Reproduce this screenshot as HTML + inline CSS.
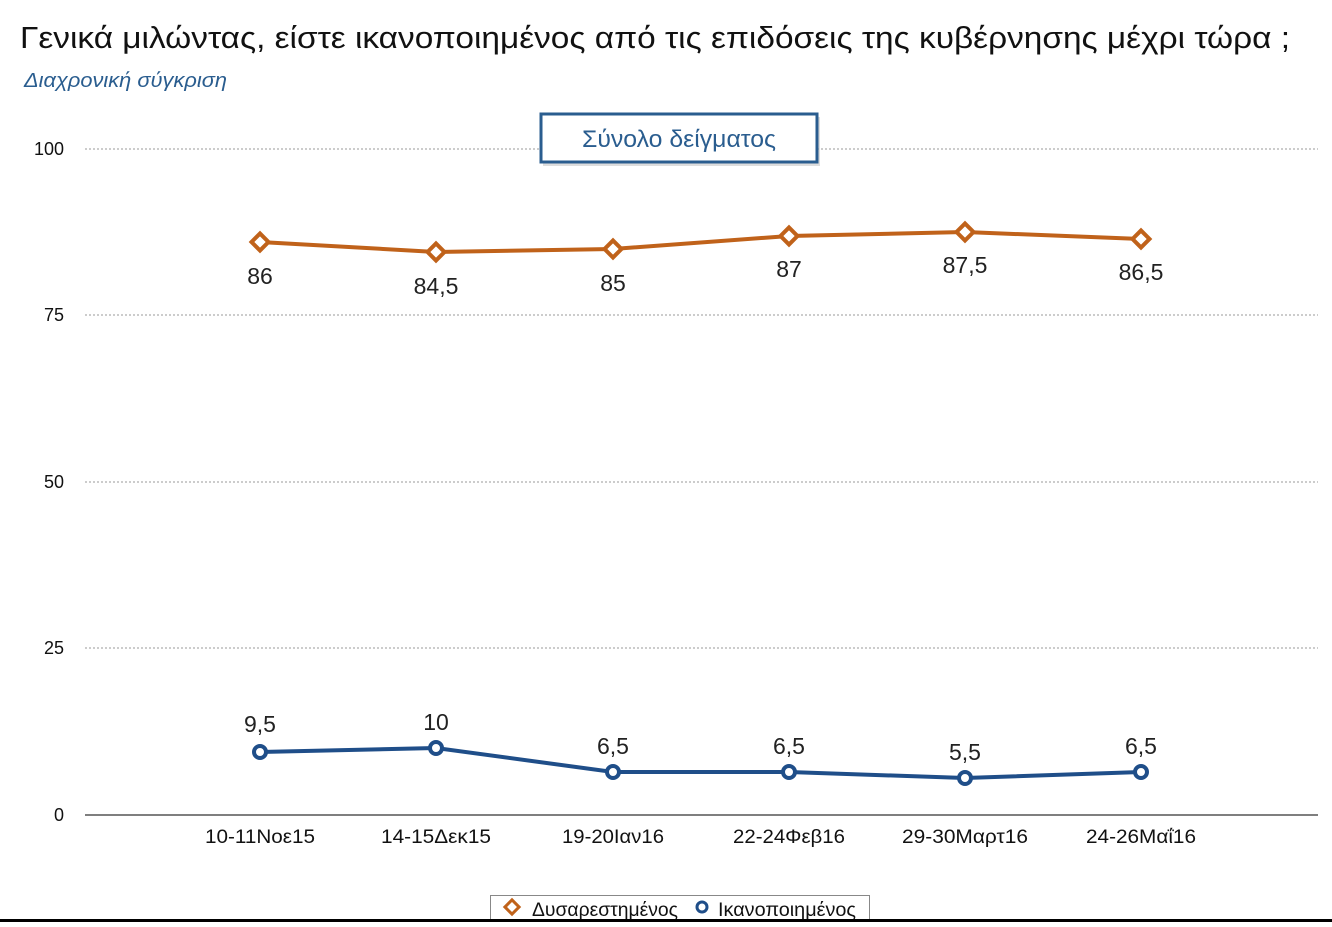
<!DOCTYPE html>
<html><head><meta charset="utf-8"><style>
body{margin:0;background:#fff;width:1332px;height:922px;overflow:hidden;font-family:"Liberation Sans","DejaVu Sans",sans-serif}
</style></head><body>
<svg width="1332" height="922" xmlns="http://www.w3.org/2000/svg" font-family="Liberation Sans, DejaVu Sans, sans-serif">
<text x="20" y="48" font-size="31" fill="#111" textLength="1270" lengthAdjust="spacingAndGlyphs">Γενικά μιλώντας, είστε ικανοποιημένος από τις επιδόσεις της κυβέρνησης μέχρι τώρα ;</text>
<text x="24" y="87" font-size="20" fill="#2a5d8f" font-style="italic" textLength="203" lengthAdjust="spacingAndGlyphs">Διαχρονική σύγκριση</text>
<g stroke="#999" stroke-dasharray="2,2" stroke-width="1">
<line x1="85" y1="149" x2="1318" y2="149"/><line x1="85" y1="315" x2="1318" y2="315"/>
<line x1="85" y1="482" x2="1318" y2="482"/><line x1="85" y1="648" x2="1318" y2="648"/>
</g>
<line x1="85" y1="815" x2="1318" y2="815" stroke="#333" stroke-width="1.2"/>
<g font-size="18" fill="#111" text-anchor="end">
<text x="64" y="155">100</text><text x="64" y="321">75</text><text x="64" y="488">50</text><text x="64" y="654">25</text><text x="64" y="821">0</text>
</g>
<g font-size="19" fill="#111" text-anchor="middle">
<text x="260" y="843" textLength="110" lengthAdjust="spacingAndGlyphs">10-11Νοε15</text>
<text x="436" y="843" textLength="110" lengthAdjust="spacingAndGlyphs">14-15Δεκ15</text>
<text x="613" y="843" textLength="102" lengthAdjust="spacingAndGlyphs">19-20Ιαν16</text>
<text x="789" y="843" textLength="112" lengthAdjust="spacingAndGlyphs">22-24Φεβ16</text>
<text x="965" y="843" textLength="126" lengthAdjust="spacingAndGlyphs">29-30Μαρτ16</text>
<text x="1141" y="843" textLength="110" lengthAdjust="spacingAndGlyphs">24-26Μαΐ16</text>
</g>
<rect x="543" y="117" width="277" height="49" fill="#bbb" opacity="0.5"/>
<rect x="541" y="114" width="276" height="48" fill="#fff" stroke="#2a5d8f" stroke-width="3"/>
<text x="679" y="147" font-size="24" fill="#2a5d8f" text-anchor="middle" textLength="194" lengthAdjust="spacingAndGlyphs">Σύνολο δείγματος</text>
<polyline fill="none" stroke="#c0621a" stroke-width="4" points="260,242 436,252 613,249 789,236 965,232 1141,239"/>
<g fill="#fff" stroke="#c0621a" stroke-width="4">
<rect x="254" y="236" width="12" height="12" transform="rotate(45 260 242)"/>
<rect x="430" y="246" width="12" height="12" transform="rotate(45 436 252)"/>
<rect x="607" y="243" width="12" height="12" transform="rotate(45 613 249)"/>
<rect x="783" y="230" width="12" height="12" transform="rotate(45 789 236)"/>
<rect x="959" y="226" width="12" height="12" transform="rotate(45 965 232)"/>
<rect x="1135" y="233" width="12" height="12" transform="rotate(45 1141 239)"/>
</g>
<g font-size="23" fill="#222" text-anchor="middle">
<text x="260" y="284">86</text><text x="436" y="294">84,5</text><text x="613" y="291">85</text>
<text x="789" y="277">87</text><text x="965" y="273">87,5</text><text x="1141" y="280">86,5</text>
</g>
<polyline fill="none" stroke="#1f4e89" stroke-width="4" points="260,752 436,748 613,772 789,772 965,778 1141,772"/>
<g fill="#fff" stroke="#1f4e89" stroke-width="4">
<circle cx="260" cy="752" r="6"/><circle cx="436" cy="748" r="6"/><circle cx="613" cy="772" r="6"/>
<circle cx="789" cy="772" r="6"/><circle cx="965" cy="778" r="6"/><circle cx="1141" cy="772" r="6"/>
</g>
<g font-size="23" fill="#222" text-anchor="middle">
<text x="260" y="732">9,5</text><text x="436" y="730">10</text><text x="613" y="754">6,5</text>
<text x="789" y="754">6,5</text><text x="965" y="760">5,5</text><text x="1141" y="754">6,5</text>
</g>
<rect x="490.5" y="895.5" width="379" height="24" fill="#fff" stroke="#888"/>
<rect x="507" y="902" width="10" height="10" fill="#fff" stroke="#c0621a" stroke-width="3" transform="rotate(45 512 907)"/>
<text x="532" y="916" font-size="19" fill="#111" textLength="146" lengthAdjust="spacingAndGlyphs">Δυσαρεστημένος</text>
<circle cx="702" cy="907" r="5" fill="#fff" stroke="#1f4e89" stroke-width="3"/>
<text x="718" y="916" font-size="19" fill="#111" textLength="138" lengthAdjust="spacingAndGlyphs">Ικανοποιημένος</text>
<rect x="0" y="919" width="1332" height="3" fill="#000"/>
</svg>
</body></html>
